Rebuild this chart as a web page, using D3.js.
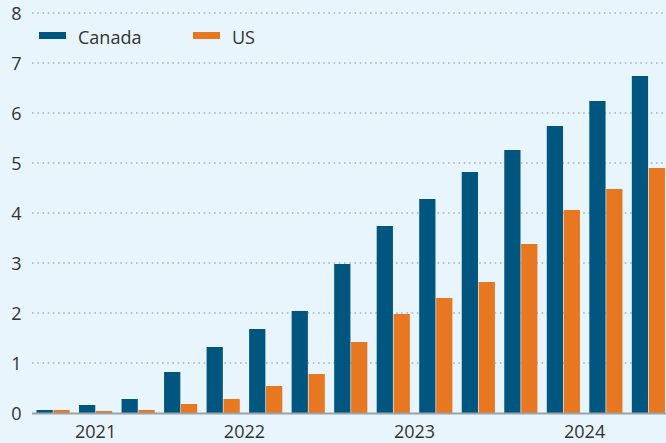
<!DOCTYPE html>
<html>
<head>
<meta charset="utf-8">
<script src="https://d3js.org/d3.v7.min.js"></script>
<style>
  body { margin: 0; background: #e8f5fc; }
  svg { display: block; font-family: "Open Sans", "Noto Sans", sans-serif; }
</style>
</head>
<body>
<div id="chart"></div>
<script>
// quarters, 2021 Q2 .. 2024 Q4
let quarters = ["2021Q2", "2021Q3", "2021Q4",
  "2022Q1", "2022Q2", "2022Q3", "2022Q4",
  "2023Q1", "2023Q2", "2023Q3", "2023Q4",
  "2024Q1", "2024Q2", "2024Q3", "2024Q4"];
let canada = [0.06, 0.16, 0.28, 0.82, 1.32, 1.68, 2.04, 2.98, 3.74, 4.28, 4.82, 5.26, 5.74, 6.24, 6.74];
let us = [0.06, 0.04, 0.06, 0.18, 0.28, 0.54, 0.78, 1.42, 1.98, 2.30, 2.62, 3.38, 4.06, 4.48, 4.90];
let years = ["2021", "2022", "2023", "2024"];
let series = ["Canada", "US"];
let yTicks = [0, 1, 2, 3, 4, 5, 6, 7, 8];

let colors = { Canada: "#00567f", US: "#e87722" };

let W = 666, H = 443;
let svg = d3.select("#chart").append("svg").attr("width", W).attr("height", H);
svg.append("rect").attr("width", W).attr("height", H).attr("fill", "#e8f5fc");

let x = d3.scaleBand().domain(quarters).range([36.5, 665]).paddingInner(0.22).paddingOuter(0);
let xs = d3.scaleBand().domain(series).range([0, x.bandwidth()]).paddingInner(0.04);
let y = d3.scaleLinear().domain([0, 8]).range([413, 13]);

// gridlines
svg.append("g").selectAll("line")
  .data(yTicks.filter(d => d > 0))
  .enter().append("line")
  .attr("x1", 32).attr("x2", W)
  .attr("y1", d => y(d)).attr("y2", d => y(d))
  .attr("stroke", "#a9b1b6").attr("stroke-width", 1.6)
  .attr("stroke-dasharray", "1.6,3.6");

// y labels
svg.append("g").selectAll("text")
  .data(yTicks)
  .enter().append("text")
  .attr("x", 16.5).attr("y", d => y(d) + 6.5)
  .attr("text-anchor", "middle")
  .attr("font-size", 18).attr("fill", "#333")
  .text(d => d);

// bars
let rows = quarters.map((q, i) => ({ q: q, Canada: canada[i], US: us[i] }));
svg.append("g").selectAll("g")
  .data(rows)
  .enter().append("g")
  .attr("transform", d => "translate(" + x(d.q) + ",0)")
  .selectAll("rect")
  .data(d => series.map(k => ({ key: k, value: d[k] })))
  .enter().append("rect")
  .attr("x", d => xs(d.key))
  .attr("y", d => y(d.value))
  .attr("width", xs.bandwidth())
  .attr("height", d => y(0) - y(d.value))
  .attr("fill", d => colors[d.key]);

// baseline
svg.append("line")
  .attr("x1", 32).attr("x2", W)
  .attr("y1", y(0) + 0.5).attr("y2", y(0) + 0.5)
  .attr("stroke", "#9aa3a8").attr("stroke-width", 2);

// year labels, centred on their quarters
svg.append("g").selectAll("text")
  .data(years)
  .enter().append("text")
  .attr("x", yr => {
    let qs = quarters.filter(q => q.startsWith(yr));
    let a = x(qs[0]), b = x(qs[qs.length - 1]) + x.bandwidth();
    return (a + b) / 2;
  })
  .attr("y", 438)
  .attr("text-anchor", "middle")
  .attr("font-size", 18).attr("fill", "#333")
  .text(d => d);

// legend
let legX = [39, 193];
let leg = svg.append("g").selectAll("g")
  .data(series)
  .enter().append("g")
  .attr("transform", (d, i) => "translate(" + legX[i] + ",0)");
leg.append("rect").attr("x", 0).attr("y", 32).attr("width", 27).attr("height", 7)
  .attr("fill", d => colors[d]);
leg.append("text").attr("x", 39).attr("y", 44)
  .attr("font-size", 18).attr("fill", "#333")
  .text(d => d);
</script>
</body>
</html>
